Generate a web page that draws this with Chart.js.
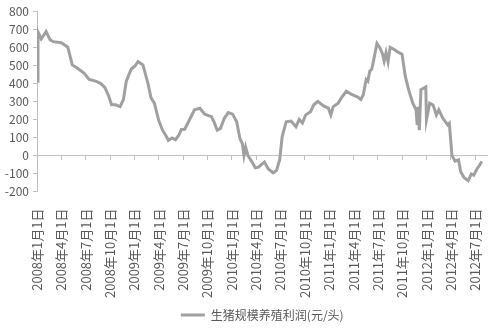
<!DOCTYPE html>
<html>
<head>
<meta charset="utf-8">
<script src="https://cdn.jsdelivr.net/npm/chart.js@4/dist/chart.umd.min.js"></script>
<style>
  html, body { margin: 0; padding: 0; background: #fff; }
  #wrap { width: 500px; height: 331px; }
</style>
</head>
<body>
<div id="wrap"><canvas id="profitChart"></canvas></div>
<script>
// months counted from 2008年1月1日
var months = [0.0, 0.12, 0.52, 1.12, 1.6, 2.0, 3.0, 3.8, 4.34, 5.0, 5.82, 6.42, 7.23, 7.83, 8.35, 8.83, 9.19, 9.67, 10.24, 10.64,
  11.0, 11.6, 12.08, 12.45, 13.05, 13.65, 14.05, 14.46, 14.98, 15.46, 15.86, 16.18, 16.66, 17.06, 17.47, 17.78, 18.19, 18.67, 19.4, 20.07,
  20.67, 21.48, 21.8, 22.2, 22.6, 23.08, 23.57, 24.1, 24.6, 25.0, 25.3, 25.5, 25.7, 25.98, 26.5, 26.9, 27.3, 27.5, 28.02, 28.5,
  29.1, 29.5, 29.9, 30.2, 30.7, 31.3, 31.9, 32.3, 32.7, 33.1, 33.7, 34.1, 34.6, 35.3, 35.9, 36.2, 36.5, 37.1, 37.5, 38.1,
  38.7, 39.5, 39.9, 40.2, 40.55, 40.76, 41.0, 41.24, 41.5, 41.88, 42.29, 42.57, 42.77, 43.0, 43.25, 43.5, 43.9, 44.37, 44.97, 45.37,
  45.78, 46.3, 46.7, 46.84, 46.96, 47.1, 47.3, 47.9, 47.98, 48.38, 48.8, 49.2, 49.5, 50.0, 50.6, 50.8, 51.12, 51.5, 51.93, 52.2,
  52.6, 53.13, 53.5, 53.8, 54.2, 54.5, 54.8];

var profit = [412, 685, 646, 687, 642, 631, 625, 600, 502, 483, 455, 421, 412, 400, 378, 330, 281, 281, 271, 309,
  412, 478, 496, 521, 502, 403, 319, 290, 197, 140, 112, 84, 97, 87, 112, 144, 145, 187, 253, 262,
  229, 215, 187, 140, 150, 206, 238, 229, 187, 94, 65, 0, 47, 0, -37, -69, -65, -56, -37, -75,
  -97, -84, -24, 103, 187, 191, 159, 200, 180, 225, 243, 281, 300, 275, 262, 225, 271, 290, 319, 356,
  340, 324, 310, 337, 421, 412, 468, 478, 534, 622, 594, 562, 524, 571, 519, 600, 590, 576, 562, 440,
  365, 290, 253, 170, 270, 140, 365, 380, 197, 290, 280, 225, 253, 206, 169, 178, 0, -32, -24, -90,
  -122, -140, -103, -110, -75, -56, -34];

var tickMonths = [0, 3, 6, 9, 12, 15, 18, 21, 24, 27, 30, 33, 36, 39, 42, 45, 48, 51, 54];
var tickLabels = ["2008年1月1日", "2008年4月1日", "2008年7月1日", "2008年10月1日",
  "2009年1月1日", "2009年4月1日", "2009年7月1日", "2009年10月1日",
  "2010年1月1日", "2010年4月1日", "2010年7月1日", "2010年10月1日",
  "2011年1月1日", "2011年4月1日", "2011年7月1日", "2011年10月1日",
  "2012年1月1日", "2012年4月1日", "2012年7月1日"];
var yTicks = [-200, -100, 0, 100, 200, 300, 400, 500, 600, 700, 800];

var seriesName = "生猪规模养殖利润(元/头)";

var points = months.map(function (m, i) { return { x: m, y: profit[i] }; });

var textColor = "#595959";
var axisColor = "#c0c0c0";
var lineColor = "#a0a0a0";
var fontFamily = "'Noto Sans CJK SC', 'DejaVu Sans', sans-serif";

function setTicks(scale) {
  scale.ticks = tickMonths.map(function (v) { return { value: v }; });
}

var chart = new Chart(document.querySelector("#profitChart"), {
  type: "line",
  data: {
    datasets: [{
      label: seriesName,
      data: points,
      borderColor: lineColor,
      backgroundColor: lineColor,
      borderWidth: 3,
      pointRadius: 0,
      tension: 0,
      fill: false
    }]
  },
  options: {
    responsive: true,
    maintainAspectRatio: false,
    animation: false,
    layout: { padding: { top: 10, right: 3, left: 0, bottom: 0 } },
    plugins: {
      tooltip: { enabled: false },
      legend: {
        position: "bottom",
        fullSize: false,
        labels: {
          color: textColor,
          font: { family: fontFamily, size: 12 },
          boxWidth: 24,
          boxHeight: 3,
          padding: 2,
          generateLabels: function (c) {
            return Chart.defaults.plugins.legend.labels.generateLabels(c).map(function (l) {
              l.lineWidth = 0;
              l.fillStyle = lineColor;
              return l;
            });
          }
        }
      }
    },
    scales: {
      x: {
        type: "linear",
        min: 0,
        max: 55.5,
        afterBuildTicks: setTicks,
        grid: { display: false },
        border: { display: false },
        ticks: {
          color: textColor,
          font: { family: fontFamily, size: 13 },
          minRotation: 90,
          maxRotation: 90,
          autoSkip: false,
          padding: 9,
          callback: function (value) {
            return tickLabels[tickMonths.indexOf(value)];
          }
        }
      },
      x2: {
        type: "linear",
        position: { y: 0 },
        min: 0,
        max: 55.5,
        afterBuildTicks: setTicks,
        grid: { drawOnChartArea: false, drawTicks: true, tickLength: 4, color: axisColor },
        border: { color: axisColor },
        ticks: { display: false }
      },
      y: {
        min: -200,
        max: 800,
        afterBuildTicks: function (scale) {
          scale.ticks = yTicks.map(function (v) { return { value: v }; });
        },
        afterFit: function (scale) { scale.width = 37; },
        grid: { drawOnChartArea: false, tickLength: 4, color: axisColor },
        border: { color: axisColor },
        ticks: {
          autoSkip: false,
          color: textColor,
          padding: 4,
          font: { family: fontFamily, size: 12 },
          callback: function (value) { return String(value); }
        }
      }
    }
  }
});
</script>
</body>
</html>
